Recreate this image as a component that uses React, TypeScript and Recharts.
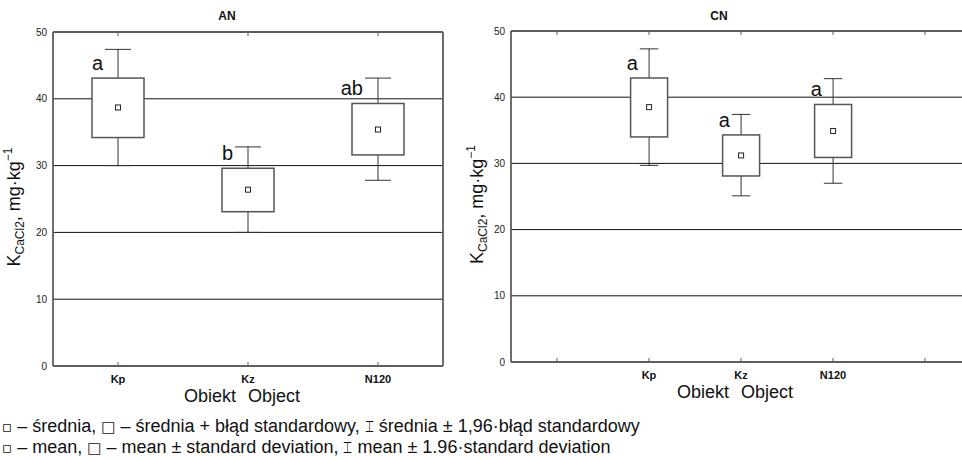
import React from 'react';
import { ComposedChart, Bar, XAxis, YAxis, CartesianGrid, Label } from 'recharts';

// AN panel
const anCategories = ['Kp', 'Kz', 'N120'];
const anWhiskerLow = [30.0, 20.0, 27.8];
const anBoxLow = [34.2, 23.1, 31.6];
const anMean = [38.7, 26.4, 35.4];
const anBoxHigh = [43.1, 29.6, 39.3];
const anWhiskerHigh = [47.4, 32.8, 43.1];
const anLetters = ['a', 'b', 'ab'];

// CN panel (empty categories on both sides, like the original axis)
const cnCategories = ['', 'Kp', 'Kz', 'N120', ''];
const cnWhiskerLow = [null, 29.7, 25.1, 27.0, null];
const cnBoxLow = [null, 34.0, 28.1, 30.9, null];
const cnMean = [null, 38.5, 31.2, 34.9, null];
const cnBoxHigh = [null, 42.9, 34.3, 38.9, null];
const cnWhiskerHigh = [null, 47.3, 37.4, 42.8, null];
const cnLetters = ['', 'a', 'a', 'a', ''];

const yTicks = [0, 10, 20, 30, 40, 50];

const FONT = '"Liberation Sans", Arial, sans-serif';
const SYM = { fontFamily: '"DejaVu Sans", sans-serif', fontSize: 15 };
const AXIS = { stroke: '#5e5e5e', strokeWidth: 1.8 };

type Row = {
  name: string;
  lo: number | null;
  boxLo: number | null;
  mean: number | null;
  boxHi: number | null;
  hi: number | null;
  letter: string;
};

function buildRows(
  cats: string[],
  lo: (number | null)[],
  boxLo: (number | null)[],
  mean: (number | null)[],
  boxHi: (number | null)[],
  hi: (number | null)[],
  letters: string[]
): Row[] {
  return cats.map((name, i) => ({
    name,
    lo: lo[i],
    boxLo: boxLo[i],
    mean: mean[i],
    boxHi: boxHi[i],
    hi: hi[i],
    letter: letters[i],
  }));
}

const anRows = buildRows(anCategories, anWhiskerLow, anBoxLow, anMean, anBoxHigh, anWhiskerHigh, anLetters);
const cnRows = buildRows(cnCategories, cnWhiskerLow, cnBoxLow, cnMean, cnBoxHigh, cnWhiskerHigh, cnLetters);

// whisker range drives the bar; the rest is placed with the same px/unit ratio
const BoxShape = (props: any) => {
  const { x, y, width, height, payload } = props;
  if (!payload || payload.hi == null || payload.lo == null) return null;
  const ppu = height / (payload.hi - payload.lo);
  const toY = (v: number) => y + (payload.hi - v) * ppu;
  const cx = x + width / 2;
  const cap = width / 4;
  const yHi = toY(payload.hi);
  const yBoxHi = toY(payload.boxHi);
  const yBoxLo = toY(payload.boxLo);
  const yLo = toY(payload.lo);
  const yMean = toY(payload.mean);
  return (
    <g>
      <line x1={cx} x2={cx} y1={yHi} y2={yBoxHi} stroke="#333" strokeWidth={1} />
      <line x1={cx} x2={cx} y1={yBoxLo} y2={yLo} stroke="#333" strokeWidth={1} />
      <line x1={cx - cap} x2={cx + cap} y1={yHi} y2={yHi} stroke="#333" strokeWidth={1} />
      <line x1={cx - cap} x2={cx + cap} y1={yLo} y2={yLo} stroke="#333" strokeWidth={1} />
      <rect x={x} y={yBoxHi} width={width} height={yBoxLo - yBoxHi} fill="#fff" stroke="#555" strokeWidth={1.5} />
      <rect x={cx - 2.5} y={yMean - 2.5} width={5} height={5} fill="#fff" stroke="#222" strokeWidth={1} />
      {payload.letter ? (
        <text x={cx - cap - 2} y={yBoxHi - 8} textAnchor="end" fontSize={20} fill="#111" fontFamily={FONT}>
          {payload.letter}
        </text>
      ) : null}
    </g>
  );
};

const BottomTick = (props: any) => {
  const { x, y, payload } = props;
  return (
    <g>
      <line x1={x} x2={x} y1={y} y2={y - 4} stroke="#5e5e5e" strokeWidth={1} />
      <text x={x} y={y + 17} textAnchor="middle" fontSize={11} fontWeight="bold" fill="#111" fontFamily={FONT}>
        {payload.value}
      </text>
    </g>
  );
};

const TopTick = (props: any) => {
  const { x, y } = props;
  return <line x1={x} x2={x} y1={y} y2={y + 4} stroke="#5e5e5e" strokeWidth={1} />;
};

const YLabel = ({ viewBox, cx }: any) => {
  const cy = viewBox.y + viewBox.height / 2 + 8;
  return (
    <text
      transform={`translate(${cx},${cy}) rotate(-90)`}
      textAnchor="middle"
      fontSize={18}
      fill="#111"
      fontFamily={FONT}
    >
      K
      <tspan fontSize={12} dy={4}>CaCl2</tspan>
      <tspan dy={-4}>, mg·kg</tspan>
      <tspan fontSize={12} dy={-8}>−1</tspan>
    </text>
  );
};

const XLabel = ({ viewBox }: any) => {
  const cx = viewBox.x + viewBox.width / 2;
  const y = viewBox.y + 36;
  return (
    <text y={y} fontSize={18} fill="#111" fontFamily={FONT} textAnchor="middle">
      <tspan x={cx - 6}>Obiekt</tspan>
      <tspan dx={12}>Object</tspan>
    </text>
  );
};

function Panel({
  rows,
  title,
  titleX,
  width,
  height,
  yAxisWidth,
  margin,
  labelX,
  rightBorder,
}: {
  rows: Row[];
  title: string;
  titleX: number;
  width: number;
  height: number;
  yAxisWidth: number;
  margin: { top: number; right: number; bottom: number; left: number };
  labelX: number;
  rightBorder: boolean;
}) {
  return (
    <div style={{ position: 'relative', width, height }}>
      <div
        style={{
          position: 'absolute',
          top: 9,
          left: titleX - 40,
          width: 80,
          textAlign: 'center',
          fontFamily: FONT,
          fontWeight: 'bold',
          fontSize: 12,
          color: '#111',
        }}
      >
        {title}
      </div>
      <ComposedChart width={width} height={height} data={rows} margin={margin} barCategoryGap="30%">
        <CartesianGrid horizontal vertical={false} stroke="#111" strokeWidth={1} />
        <XAxis
          dataKey="name"
          height={40}
          tickSize={0}
          tickMargin={0}
          tickLine={false}
          axisLine={AXIS}
          tick={<BottomTick />}
          interval={0}
        >
          <Label content={<XLabel />} />
        </XAxis>
        <XAxis
          xAxisId="top"
          orientation="top"
          dataKey="name"
          height={1}
          tickSize={0}
          tickMargin={0}
          tickLine={false}
          axisLine={AXIS}
          tick={<TopTick />}
          interval={0}
        />
        <YAxis
          width={yAxisWidth}
          domain={[0, 50]}
          ticks={yTicks}
          tickSize={0}
          tickMargin={6}
          tickLine={false}
          axisLine={AXIS}
          tick={{ fontSize: 10, fill: '#222', fontFamily: FONT }}
        >
          <Label content={<YLabel cx={labelX} />} />
        </YAxis>
        {rightBorder ? (
          <YAxis
            yAxisId="right"
            orientation="right"
            width={1}
            domain={[0, 50]}
            ticks={yTicks}
            tick={false}
            tickLine={false}
            axisLine={AXIS}
          />
        ) : null}
        <Bar
          dataKey={(d: Row) => (d.hi == null ? null : [d.lo, d.hi])}
          shape={<BoxShape />}
          isAnimationActive={false}
        />
      </ComposedChart>
    </div>
  );
}

export default function App() {
  return (
    <div
      style={{
        position: 'fixed',
        left: 0,
        top: 0,
        width: 962,
        height: 460,
        overflow: 'hidden',
        background: '#fff',
        fontFamily: FONT,
      }}
    >
      <div style={{ position: 'absolute', left: 0, top: 0 }}>
        <Panel
          rows={anRows}
          title="AN"
          titleX={227}
          width={480}
          height={410}
          yAxisWidth={53}
          margin={{ top: 31, right: 36, bottom: 4, left: 0 }}
          labelX={20}
          rightBorder
        />
      </div>
      <div style={{ position: 'absolute', left: 460, top: 0 }}>
        <Panel
          rows={cnRows}
          title="CN"
          titleX={259}
          width={520}
          height={410}
          yAxisWidth={51}
          margin={{ top: 30, right: 9, bottom: 8, left: 0 }}
          labelX={23}
          rightBorder={false}
        />
      </div>
      <div
        style={{
          position: 'absolute',
          left: 2,
          top: 416,
          fontSize: 18,
          lineHeight: '20px',
          color: '#111',
          whiteSpace: 'nowrap',
        }}
      >
        <div>
          <span style={SYM}>▫</span> – średnia, <span style={SYM}>□</span> – średnia + błąd standardowy,{' '}
          <span style={SYM}>⌶</span> średnia ± 1,96·błąd standardowy
        </div>
        <div>
          <span style={SYM}>▫</span> – mean, <span style={SYM}>□</span> – mean ± standard deviation,{' '}
          <span style={SYM}>⌶</span> mean ± 1.96·standard deviation
        </div>
      </div>
    </div>
  );
}
